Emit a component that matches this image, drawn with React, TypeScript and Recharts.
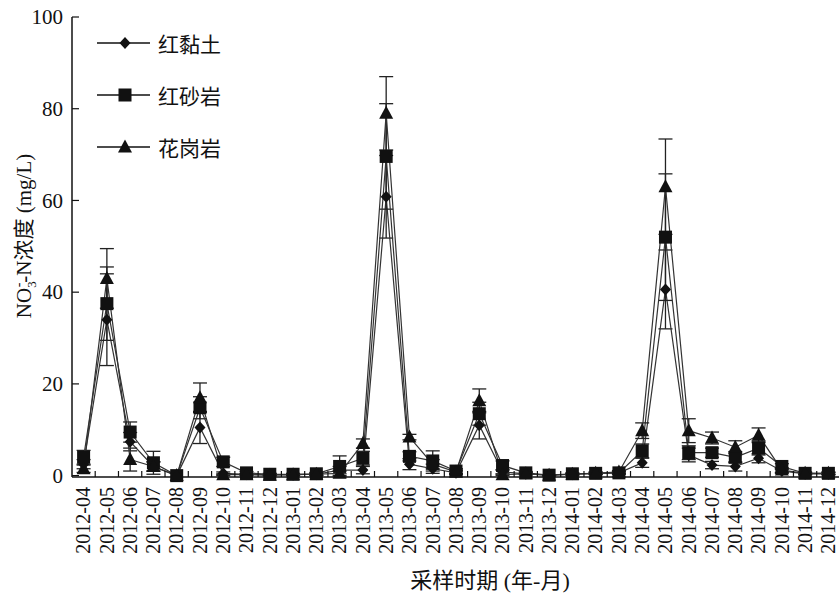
import React from 'react';
import { LineChart, Line, XAxis, YAxis, ErrorBar, Legend } from 'recharts';

const months = [
  '2012-04', '2012-05', '2012-06', '2012-07', '2012-08', '2012-09', '2012-10', '2012-11', '2012-12',
  '2013-01', '2013-02', '2013-03', '2013-04', '2013-05', '2013-06', '2013-07', '2013-08', '2013-09',
  '2013-10', '2013-11', '2013-12', '2014-01', '2014-02', '2014-03', '2014-04', '2014-05', '2014-06',
  '2014-07', '2014-08', '2014-09', '2014-10', '2014-11', '2014-12',
];

// 红黏土
const clay = [2.5, 34, 7.4, 2, 0, 10.5, 0.5, 0.3, 0.2, 0.2, 0.3, 1.2, 1.2, 60.8, 2.5, 1.5, 0.6, 11, 0.8, 0.4, 0.1, 0.3, 0.5, 0.6, 2.8, 40.6, 4.5, 2.3, 2, 3.8, 1, 0.4, 0.4];
const clayErr = [1, 10, 2, 1, 0, 3.5, 0.3, 0.2, 0.2, 0.2, 0.2, 0.8, 0.8, 9, 1.2, 1, 0.4, 3, 0.5, 0.2, 0.1, 0.2, 0.2, 0.2, 1, 8.6, 1.5, 0.8, 1, 1, 0.5, 0.2, 0.2];
// 红砂岩
const sand = [4, 37.5, 9.5, 2.8, 0, 14.8, 3, 0.6, 0.3, 0.3, 0.4, 2, 3.8, 69.6, 4.2, 3.2, 1, 13.5, 2.2, 0.6, 0.1, 0.4, 0.5, 0.6, 5.4, 52, 5, 5, 4, 6, 2, 0.5, 0.5];
const sandErr = [1.5, 8, 2.2, 2.5, 0, 2.4, 1, 0.3, 0.2, 0.2, 0.3, 2.3, 1.5, 11.5, 1, 2.2, 0.5, 2.5, 1, 0.3, 0.1, 0.2, 0.3, 0.3, 1.5, 13.8, 1.5, 1, 1.2, 1.5, 0.6, 0.3, 0.3];
// 花岗岩
const granite = [1.5, 43, 3.5, 2, 0, 17, 0.2, 0.2, 0.1, 0.2, 0.3, 0.5, 7, 79, 8.4, 2.5, 0.8, 16.3, 0.2, 0.4, 0.1, 0.3, 0.5, 0.8, 9.8, 63, 9.8, 8.2, 6.2, 8.8, 1.2, 0.5, 0.5];
const graniteErr = [0.8, 6.5, 2.5, 1, 0, 3.2, 0.2, 0.1, 0.1, 0.1, 0.2, 0.5, 1, 8, 0.6, 1, 0.4, 2.6, 0.2, 0.2, 0.1, 0.1, 0.2, 0.3, 1.7, 10.4, 2.6, 1.3, 1.4, 1.6, 0.5, 0.2, 0.2];

const yTicks = [0, 20, 40, 60, 80, 100];

const data = months.map((m, i) => ({
  month: m,
  clay: clay[i],
  clayErr: clayErr[i],
  sand: sand[i],
  sandErr: sandErr[i],
  granite: granite[i],
  graniteErr: graniteErr[i],
}));

const FONT = '"Liberation Serif", "Noto Sans CJK SC", serif';
const INK = '#111';
const HALF_BAND = 11.6;
const txt = { fontFamily: FONT };

const Diamond = ({ cx, cy }: any) =>
  cx == null ? null : <path d={`M${cx},${cy - 6}L${cx + 5.5},${cy}L${cx},${cy + 6}L${cx - 5.5},${cy}Z`} fill={INK} />;
const Square = ({ cx, cy }: any) =>
  cx == null ? null : <rect x={cx - 6.5} y={cy - 6.5} width={13} height={13} fill={INK} />;
const Triangle = ({ cx, cy }: any) =>
  cx == null ? null : <path d={`M${cx},${cy - 7.5}L${cx + 7},${cy + 5.5}L${cx - 7},${cy + 5.5}Z`} fill={INK} />;

const series = [
  { key: 'clay', name: '红黏土', Shape: Diamond },
  { key: 'sand', name: '红砂岩', Shape: Square },
  { key: 'granite', name: '花岗岩', Shape: Triangle },
];

const XTick = ({ x, y, payload }: any) => (
  <g>
    <line x1={x + HALF_BAND} y1={y} x2={x + HALF_BAND} y2={y - 6} stroke={INK} strokeWidth={1.2} />
    <text
      x={x}
      y={y + 10}
      dy="0.34em"
      transform={`rotate(-90, ${x}, ${y + 10})`}
      textAnchor="end"
      style={txt}
      fontSize={20}
      fill={INK}
    >
      {payload.value}
    </text>
  </g>
);

const YTick = ({ x, y, payload }: any) => (
  <g>
    <line x1={x + 9} y1={y} x2={x + 16} y2={y} stroke={INK} strokeWidth={1.2} />
    <text x={x} y={y} dy="0.34em" textAnchor="end" style={txt} fontSize={21} fill={INK}>
      {payload.value}
    </text>
  </g>
);

const YLabel = () => (
  <text
    x={24}
    y={236}
    transform="rotate(-90, 24, 236)"
    textAnchor="middle"
    dy="0.35em"
    style={txt}
    fontSize={21}
    fill={INK}
  >
    NO
    <tspan fontSize={13} dy={5}>3</tspan>
    <tspan fontSize={14} dx={-6} dy={-13}>-</tspan>
    <tspan dy={8}>-N浓度 (mg/L)</tspan>
  </text>
);

const XLabel = () => (
  <text x={490} y={580} textAnchor="middle" dy="0.35em" style={txt} fontSize={22} fill={INK}>
    采样时期 (年-月)
  </text>
);

const renderLegend = () => (
  <div style={{ fontFamily: FONT, fontSize: 21, color: INK }}>
    {series.map(s => (
      <div key={s.key} style={{ display: 'flex', alignItems: 'center', height: 52 }}>
        <svg width={56} height={20}>
          <line x1={0} y1={10} x2={53} y2={10} stroke={INK} strokeWidth={1.3} />
          <s.Shape cx={28} cy={10} />
        </svg>
        <span style={{ marginLeft: 5 }}>{s.name}</span>
      </div>
    ))}
  </div>
);

export default function App() {
  return (
    <div style={{ position: 'absolute', left: 0, top: 0, width: 839, height: 594, overflow: 'hidden', background: '#fff' }}>
      <LineChart width={845} height={594} data={data} margin={{ top: 17, right: 5, left: 0, bottom: 0 }}>
        <XAxis
          dataKey="month"
          interval={0}
          height={117}
          tickSize={0}
          tickMargin={0}
          padding={{ left: HALF_BAND, right: HALF_BAND }}
          axisLine={{ stroke: INK, strokeWidth: 1.5 }}
          tick={<XTick />}
          label={<XLabel />}
        />
        <YAxis
          width={72}
          domain={[0, 100]}
          ticks={yTicks}
          interval={0}
          tickSize={0}
          tickMargin={9}
          axisLine={{ stroke: INK, strokeWidth: 1.5 }}
          tick={<YTick />}
          label={<YLabel />}
        />
        <Legend
          layout="vertical"
          align="center"
          verticalAlign="middle"
          content={renderLegend}
          wrapperStyle={{ left: 97, top: 17, width: 'auto' }}
        />
        {series.map(s => (
          <Line
            key={s.key}
            type="linear"
            dataKey={s.key}
            name={s.name}
            stroke="#333"
            strokeWidth={1.2}
            dot={<s.Shape />}
            activeDot={false}
            isAnimationActive={false}
          >
            <ErrorBar dataKey={`${s.key}Err`} width={7} stroke="#222" strokeWidth={1.3} direction="y" />
          </Line>
        ))}
      </LineChart>
    </div>
  );
}
